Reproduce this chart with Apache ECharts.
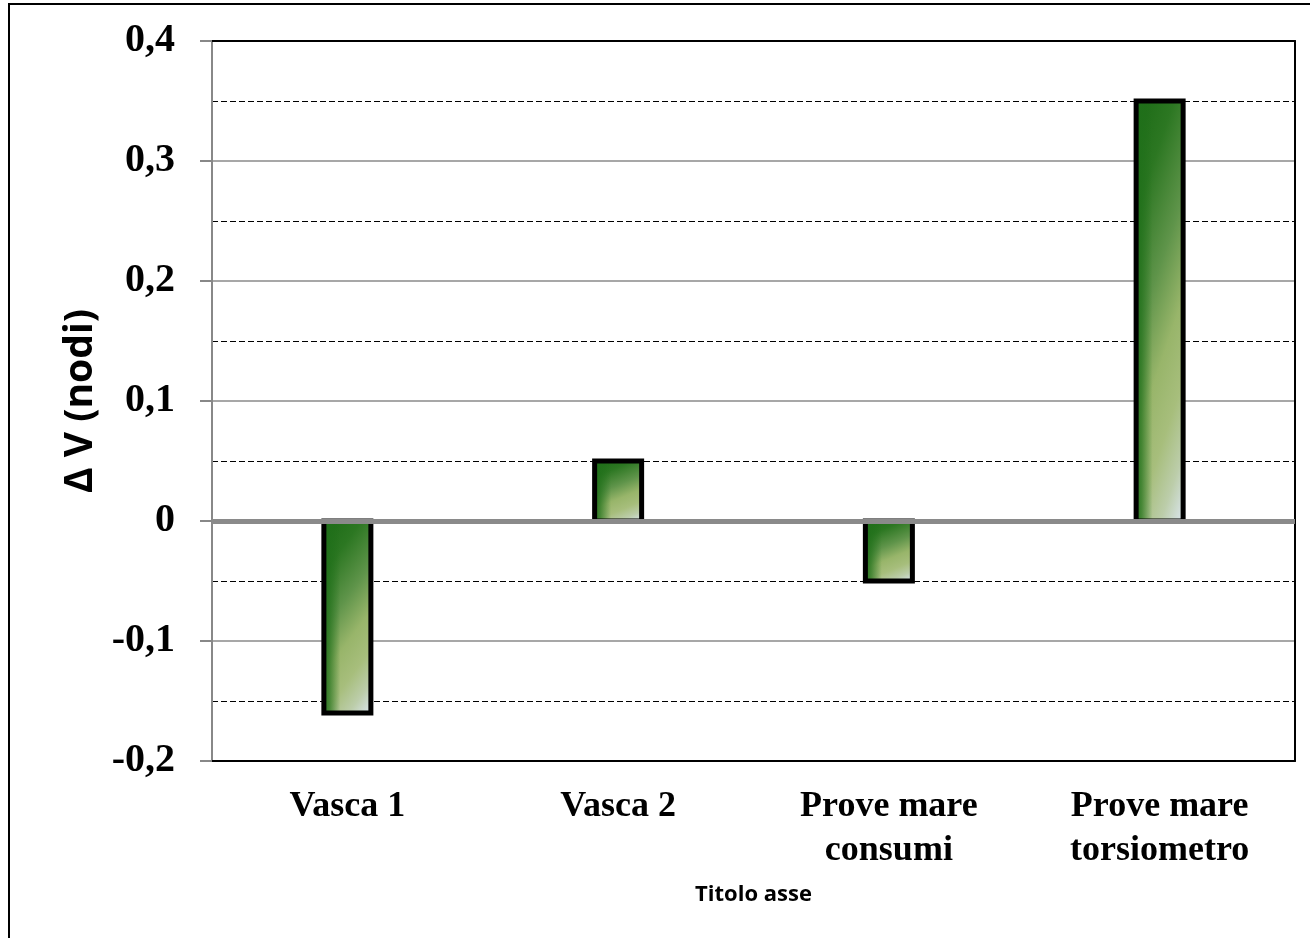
<!DOCTYPE html>
<html>
<head>
<meta charset="utf-8">
<title>Δ V (nodi)</title>
<script src="https://cdn.jsdelivr.net/npm/echarts@6/dist/echarts.min.js"></script>
<style>
  html, body { margin: 0; padding: 0; background: #ffffff; }
  #chart { width: 1310px; height: 938px; }
</style>
</head>
<body>
<div id="chart"></div>
<script>
// Speed difference per test campaign
const categories = ['Vasca 1', 'Vasca 2', 'Prove mare\nconsumi', 'Prove mare\ntorsiometro'];
const deltaV = [-0.16, 0.05, -0.05, 0.35];
const yTickLabels = ['-0,2', '-0,1', '0', '0,1', '0,2', '0,3', '0,4'];
const yMin = -0.2, yMax = 0.4, yStep = 0.1;

const chart = echarts.init(document.getElementById('chart'), null, { renderer: 'canvas' });

const serif = '"Liberation Serif", "Times New Roman", serif';
const sans = '"Open Sans", "Liberation Sans", sans-serif';

// Bar body: diagonal green shading, dark left bevel, black outline
function renderBar(params, api) {
  const idx = api.value(0);
  const val = api.value(1);
  const base = api.coord([idx, 0]);
  const tip = api.coord([idx, val]);
  const w = 47;
  const x = base[0] - w / 2;
  const y = Math.min(base[1], tip[1]);
  const h = Math.max(1, Math.abs(tip[1] - base[1]));

  // t = 0.75 * (dy / h) + 0.25 * (dx / w)
  const A = 0.25 / w, B = 0.75 / h;
  const n = A * A + B * B;
  const grad = new echarts.graphic.LinearGradient(
    x, y, x + A / n, y + B / n,
    [
      { offset: 0, color: '#1b6a15' },
      { offset: 0.2, color: '#2c7722' },
      { offset: 0.42, color: '#5f944a' },
      { offset: 0.6, color: '#98b56a' },
      { offset: 0.75, color: '#a7be7c' },
      { offset: 0.88, color: '#bccdaa' },
      { offset: 1, color: '#dbe6ef' }
    ], true);

  const bevel = new echarts.graphic.LinearGradient(0, 0, 1, 0, [
    { offset: 0, color: 'rgba(32,112,26,0.95)' },
    { offset: 0.12, color: 'rgba(32,112,26,0.7)' },
    { offset: 0.35, color: 'rgba(32,112,26,0)' },
    { offset: 1, color: 'rgba(32,112,26,0)' }
  ]);

  return {
    type: 'group',
    children: [
      { type: 'rect', shape: { x: x, y: y, width: w, height: h }, style: { fill: grad } },
      { type: 'rect', shape: { x: x, y: y, width: w, height: h }, style: { fill: bevel } },
      { type: 'rect', shape: { x: x, y: y, width: w, height: h },
        style: { fill: 'none', stroke: '#000000', lineWidth: 5, lineJoin: 'miter' } }
    ]
  };
}

const option = {
  backgroundColor: '#ffffff',
  animation: false,
  graphic: [
    {
      type: 'rect',
      shape: { x: 9, y: 4, width: 1330, height: 960 },
      style: { fill: 'none', stroke: '#000000', lineWidth: 2 },
      silent: true,
      z: 100
    }
  ],
  grid: { left: 212, top: 41, right: 15, bottom: 177, containLabel: false },
  xAxis: [
    {
      type: 'category',
      data: categories,
      position: 'bottom',
      boundaryGap: true,
      axisLine: { show: true, onZero: false, lineStyle: { color: '#000000', width: 2 } },
      axisTick: { show: false },
      axisLabel: {
        margin: 24,
        fontFamily: serif,
        fontWeight: 'bold',
        fontSize: 36,
        lineHeight: 44,
        color: '#000000',
        interval: 0
      },
      name: 'Titolo asse',
      nameLocation: 'middle',
      nameGap: 123,
      nameTextStyle: { fontFamily: sans, fontWeight: 'bold', fontSize: 22, color: '#000000' }
    },
    {
      type: 'category',
      data: categories,
      position: 'top',
      axisLine: { show: true, onZero: false, lineStyle: { color: '#000000', width: 2 } },
      axisTick: { show: false },
      axisLabel: { show: false }
    }
  ],
  yAxis: [
    {
      type: 'value',
      min: yMin,
      max: yMax,
      interval: yStep,
      position: 'left',
      axisLine: { show: true, lineStyle: { color: '#888888', width: 2 } },
      axisTick: { show: true, length: 12, inside: false, lineStyle: { color: '#888888', width: 2 } },
      axisLabel: {
        margin: 37,
        fontFamily: serif,
        fontWeight: 'bold',
        fontSize: 40,
        color: '#000000',
        formatter: function (v) {
          return yTickLabels[Math.round((v - yMin) / yStep)];
        }
      },
      splitLine: { show: true, lineStyle: { color: '#8a8a8a', width: 1.5 } },
      minorTick: { show: false, splitNumber: 2 },
      minorSplitLine: { show: true, lineStyle: { color: '#000000', width: 1, type: [6, 3] } },
      name: 'Δ V (nodi)',
      nameLocation: 'middle',
      nameRotate: 90,
      nameGap: 112,
      nameTextStyle: { fontFamily: sans, fontWeight: 'bold', fontSize: 39, color: '#000000' }
    },
    {
      type: 'value',
      min: yMin,
      max: yMax,
      interval: yStep,
      position: 'right',
      axisLine: { show: true, onZero: false, lineStyle: { color: '#000000', width: 2 } },
      axisTick: { show: false },
      axisLabel: { show: false },
      splitLine: { show: false }
    }
  ],
  series: [
    {
      type: 'custom',
      xAxisIndex: 0,
      yAxisIndex: 0,
      renderItem: renderBar,
      data: deltaV.map((v, i) => [i, v]),
      encode: { x: 0, y: 1 },
      z: 3
    },
    {
      // zero baseline, drawn above the bars
      type: 'line',
      xAxisIndex: 0,
      yAxisIndex: 0,
      data: [],
      z: 10,
      markLine: {
        silent: true,
        symbol: ['none', 'none'],
        label: { show: false },
        lineStyle: { color: '#8a8a8a', width: 5, type: 'solid' },
        data: [{ yAxis: 0 }]
      }
    }
  ]
};

chart.setOption(option);
</script>
</body>
</html>
